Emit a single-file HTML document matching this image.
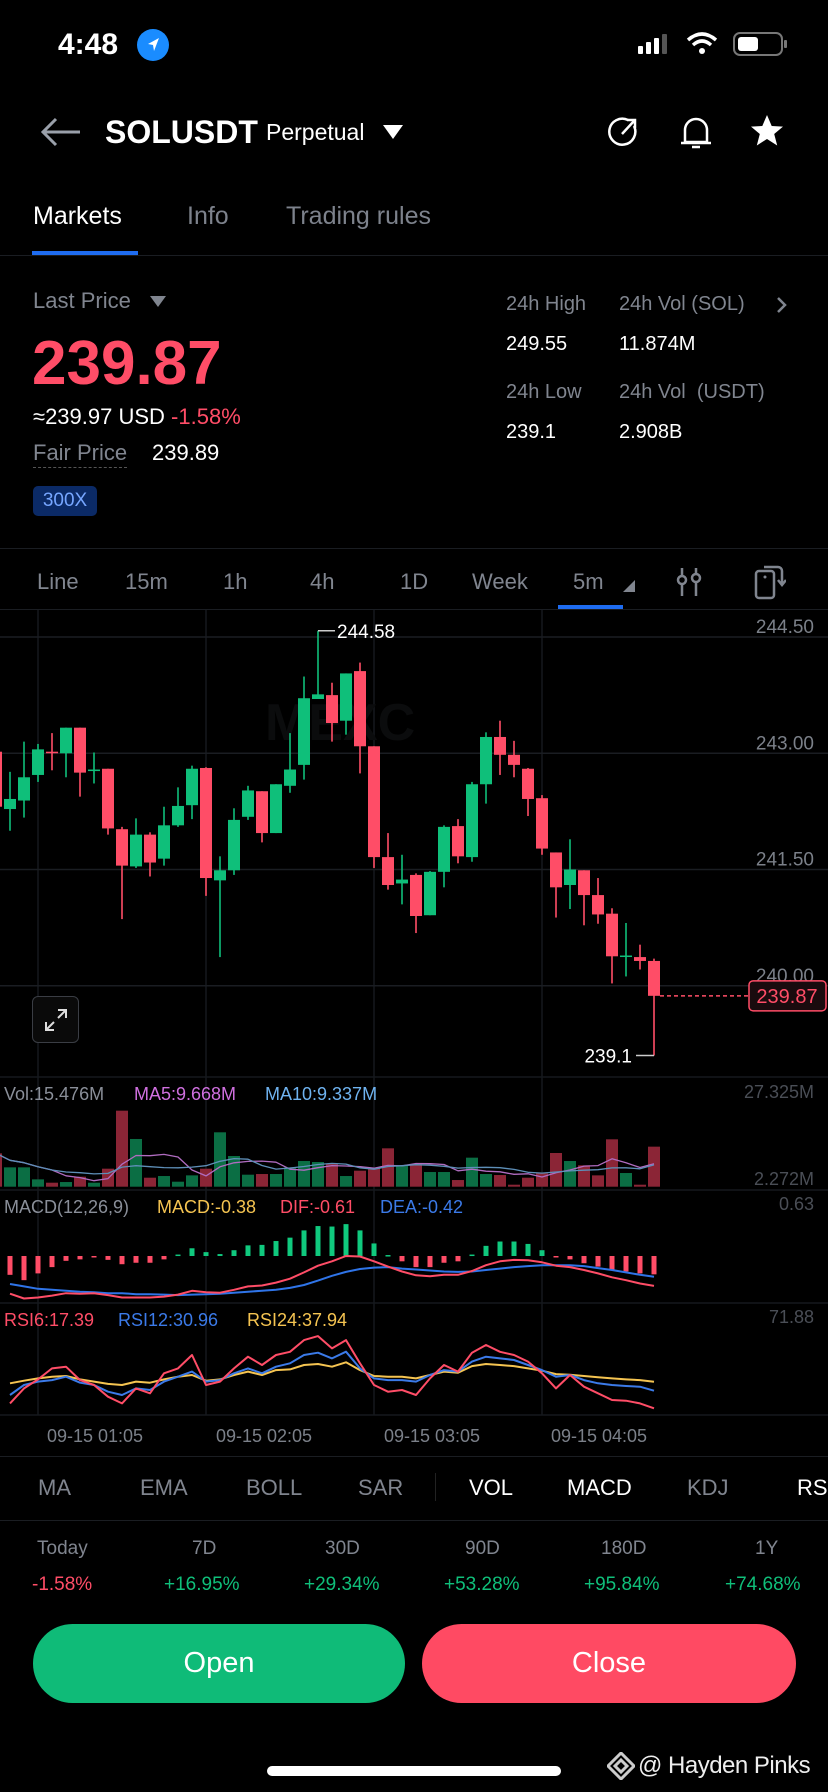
<!DOCTYPE html>
<html><head><meta charset="utf-8">
<style>
*{margin:0;padding:0;box-sizing:border-box}
body{width:828px;height:1792px;background:#000;overflow:hidden;font-family:"Liberation Sans",sans-serif;color:#fff;position:relative}
.a{position:absolute;white-space:nowrap;line-height:1}
.g{color:#80858f}
.hr{position:absolute;left:0;width:828px;height:1px;background:#1a1d22}
</style></head><body>
<!-- status bar -->
<div class="a" style="left:58px;top:30px;font-size:30px;font-weight:bold">4:48</div>
<svg class="a" style="left:137px;top:29px" width="32" height="32"><circle cx="16" cy="16" r="16" fill="#1a8cff"/><path d="M22 9 L11 15 L16 16 L17 22 Z" fill="#fff"/></svg>
<svg class="a" style="left:636px;top:30px" width="152" height="30">
<rect x="2" y="16" width="5" height="8" rx="1" fill="#fff"/><rect x="10" y="12" width="5" height="12" rx="1" fill="#fff"/><rect x="18" y="8" width="5" height="16" rx="1" fill="#fff"/><rect x="26" y="4" width="5" height="20" rx="1" fill="#555"/>
<path d="M52 10 Q66 -2 80 10" stroke="#fff" stroke-width="3.5" fill="none"/><path d="M57 15 Q66 7 75 15" stroke="#fff" stroke-width="3.5" fill="none"/><circle cx="66" cy="21" r="3" fill="#fff"/>
<rect x="98" y="3" width="48" height="22" rx="6" stroke="#777" stroke-width="2" fill="none"/><rect x="102" y="7" width="20" height="14" rx="3" fill="#fff"/><rect x="148" y="10" width="3" height="8" rx="1" fill="#777"/>
</svg>
<!-- header -->
<svg class="a" style="left:40px;top:116px" width="42" height="32"><path d="M40 16 H4 M16 3 L3 16 L16 29" stroke="#9aa0aa" stroke-width="3" fill="none"/></svg>
<div class="a" style="left:105px;top:116px;font-size:32px;font-weight:bold">SOLUSDT</div>
<div class="a" style="left:266px;top:121px;font-size:23px">Perpetual</div>
<svg class="a" style="left:383px;top:125px" width="20" height="16"><path d="M0 0 H20 L10 14 Z" fill="#fff"/></svg>
<svg class="a" style="left:606px;top:114px" width="36" height="36"><path d="M28 12 A13 13 0 1 1 22 6" stroke="#fff" stroke-width="2.5" fill="none"/><path d="M16 20 L28 7 M21 6 H29 V14" stroke="#fff" stroke-width="2.5" fill="none"/></svg>
<svg class="a" style="left:678px;top:113px" width="36" height="38"><path d="M7 29 V17 A11 11 0 0 1 29 17 V29 Z M3 30 H33 M14 34 H22" stroke="#fff" stroke-width="2.5" fill="none"/></svg>
<svg class="a" style="left:749px;top:113px" width="36" height="36"><path d="M18 2 L22.7 13 L34 13.6 L25.2 21 L28.2 32.5 L18 26 L7.8 32.5 L10.8 21 L2 13.6 L13.3 13 Z" fill="#fff"/></svg>
<!-- tabs -->
<div class="a" style="left:33px;top:204px;font-size:25px">Markets</div>
<div class="a g" style="left:187px;top:204px;font-size:25px;color:#7d828c">Info</div>
<div class="a g" style="left:286px;top:204px;font-size:25px;color:#7d828c">Trading rules</div>
<div class="a" style="left:32px;top:251px;width:106px;height:4px;background:#1e6cf0"></div>
<div class="hr" style="top:255px"></div>
<!-- price block -->
<div class="a g" style="left:33px;top:290px;font-size:22px">Last Price</div>
<svg class="a" style="left:150px;top:296px" width="16" height="12"><path d="M0 0 H16 L8 11 Z" fill="#80858f"/></svg>
<div class="a" style="left:32px;top:333px;font-size:62px;font-weight:bold;color:#ff4d67">239.87</div>
<div class="a" style="left:33px;top:406px;font-size:22px">≈239.97 USD <span style="color:#ff4d67">-1.58%</span></div>
<div class="a g" style="left:33px;top:442px;font-size:22px;border-bottom:1px dashed #555;padding-bottom:3px">Fair Price</div>
<div class="a" style="left:152px;top:442px;font-size:22px">239.89</div>
<div class="a" style="left:33px;top:486px;width:64px;height:30px;background:#0b2a66;border-radius:5px;color:#76a6ff;font-size:19px;text-align:center;line-height:30px">300X</div>
<div class="a g" style="left:506px;top:294px;font-size:20px">24h High</div>
<div class="a g" style="left:619px;top:294px;font-size:20px">24h Vol (SOL)</div>
<svg class="a" style="left:776px;top:296px" width="12" height="18"><path d="M2 2 L9 9 L2 16" stroke="#80858f" stroke-width="2.5" fill="none"/></svg>
<div class="a" style="left:506px;top:334px;font-size:20px">249.55</div>
<div class="a" style="left:619px;top:334px;font-size:20px">11.874M</div>
<div class="a g" style="left:506px;top:382px;font-size:20px">24h Low</div>
<div class="a g" style="left:619px;top:382px;font-size:20px">24h Vol&nbsp; (USDT)</div>
<div class="a" style="left:506px;top:422px;font-size:20px">239.1</div>
<div class="a" style="left:619px;top:422px;font-size:20px">2.908B</div>
<div class="hr" style="top:548px"></div>
<!-- timeframe bar -->
<div class="a" style="top:571px;font-size:22px;color:#80858f;left:0;width:828px;height:24px">
<span class="a" style="left:37px">Line</span>
<span class="a" style="left:125px">15m</span>
<span class="a" style="left:223px">1h</span>
<span class="a" style="left:310px">4h</span>
<span class="a" style="left:400px">1D</span>
<span class="a" style="left:472px">Week</span>
<span class="a" style="left:573px">5m</span>
</div>
<svg class="a" style="left:623px;top:580px" width="12" height="12"><path d="M12 0 V12 H0 Z" fill="#80858f"/></svg>
<div class="a" style="left:558px;top:605px;width:65px;height:4px;background:#1e6cf0"></div>
<svg class="a" style="left:676px;top:566px" width="26" height="32"><path d="M6 2 V10 M6 18 V30 M20 2 V8 M20 16 V30" stroke="#80858f" stroke-width="2.5"/><circle cx="6" cy="14" r="4" stroke="#80858f" stroke-width="2.5" fill="none"/><circle cx="20" cy="12" r="4" stroke="#80858f" stroke-width="2.5" fill="none"/></svg>
<svg class="a" style="left:754px;top:564px" width="32" height="36"><rect x="2" y="7" width="18" height="27" rx="3" stroke="#80858f" stroke-width="2.5" fill="none"/><circle cx="11" cy="13" r="1.5" fill="#80858f"/><path d="M10 3 H24 A4 4 0 0 1 28 7 V20 M24 16 L28 21 L32 16" stroke="#80858f" stroke-width="2.5" fill="none"/></svg>
<div class="hr" style="top:609px"></div>

<svg id="chart" class="a" style="left:0;top:0" width="828" height="1792"></svg>

<div class="a" style="left:32px;top:996px;width:47px;height:47px;border:1px solid #3a3d44;border-radius:6px;background:#0a0a0a"></div>
<svg class="a" style="left:44px;top:1008px" width="24" height="24"><path d="M14 2 H22 V10 M22 2 L14 10 M10 22 H2 V14 M2 22 L10 14" stroke="#ddd" stroke-width="2" fill="none"/></svg>

<!-- indicator tabs -->
<div class="hr" style="top:1456px"></div>
<div class="a" style="top:1477px;left:0;width:828px;font-size:22px;color:#80858f">
<span class="a" style="left:38px">MA</span>
<span class="a" style="left:140px">EMA</span>
<span class="a" style="left:246px">BOLL</span>
<span class="a" style="left:358px">SAR</span>
<span class="a" style="left:469px;color:#fff">VOL</span>
<span class="a" style="left:567px;color:#fff">MACD</span>
<span class="a" style="left:687px">KDJ</span>
<span class="a" style="left:797px;color:#fff">RSI</span>
</div>
<div class="a" style="left:435px;top:1473px;width:1px;height:28px;background:#222"></div>
<div class="hr" style="top:1520px"></div>
<!-- period performance -->
<div class="a" style="top:1539px;left:0;width:828px;font-size:19px;color:#80858f">
<span class="a" style="left:37px">Today</span>
<span class="a" style="left:192px">7D</span>
<span class="a" style="left:325px">30D</span>
<span class="a" style="left:465px">90D</span>
<span class="a" style="left:601px">180D</span>
<span class="a" style="left:755px">1Y</span>
</div>
<div class="a" style="top:1575px;left:0;width:828px;font-size:19px;color:#0fbf7a">
<span class="a" style="left:32px;color:#ff4d67">-1.58%</span>
<span class="a" style="left:164px">+16.95%</span>
<span class="a" style="left:304px">+29.34%</span>
<span class="a" style="left:444px">+53.28%</span>
<span class="a" style="left:584px">+95.84%</span>
<span class="a" style="left:725px">+74.68%</span>
</div>
<!-- buttons -->
<div class="a" style="left:33px;top:1624px;width:372px;height:79px;border-radius:40px;background:#0fbb78;font-size:29px;text-align:center;line-height:79px">Open</div>
<div class="a" style="left:422px;top:1624px;width:374px;height:79px;border-radius:40px;background:#ff4a63;font-size:29px;text-align:center;line-height:79px">Close</div>
<div class="a" style="left:267px;top:1766px;width:294px;height:10px;border-radius:5px;background:#fff"></div>
<svg class="a" style="left:607px;top:1752px" width="28" height="28"><path d="M14 1 L27 14 L14 27 L1 14 Z M14 8 L20 14 L14 20 L8 14 Z" fill="none" stroke="#ccc" stroke-width="3"/></svg>
<div class="a" style="left:638px;top:1754px;font-size:24px;color:#eee;letter-spacing:-0.5px">@ Hayden Pinks</div>

<script>
const NS='http://www.w3.org/2000/svg';
const svg=document.getElementById('chart');
// ---- data ----
const opens=[243.02,242.28,242.39,242.72,243.02,243.00,243.33,242.77,242.80,242.02,241.54,241.95,241.64,242.07,242.33,242.81,241.36,241.49,242.18,242.51,241.97,242.58,242.85,243.70,243.75,243.42,244.06,243.09,241.66,241.32,241.43,240.91,241.47,242.06,241.66,242.60,243.21,242.98,242.80,242.42,241.72,241.30,241.49,241.17,240.93,240.38,240.37,240.32];
const closes=[242.31,242.41,242.69,243.05,243.00,243.33,242.75,242.79,242.03,241.55,241.95,241.59,242.07,242.32,242.80,241.39,241.49,242.14,242.52,241.97,242.60,242.79,243.71,243.76,243.39,244.03,243.09,241.66,241.30,241.37,240.90,241.47,242.05,241.67,242.60,243.21,242.98,242.85,242.41,241.77,241.27,241.50,241.17,240.92,240.38,240.39,240.32,239.87];
const highs=[243.05,242.76,243.15,243.12,243.26,243.33,243.33,243.01,242.80,242.05,242.16,241.98,242.31,242.56,242.84,242.82,241.67,242.29,242.58,242.51,242.60,243.26,243.99,244.58,243.91,244.03,244.17,243.09,241.97,241.69,241.45,241.48,242.07,242.15,242.63,243.27,243.42,243.16,242.81,242.46,241.72,241.89,241.49,241.39,241.00,240.81,240.53,240.35];
const lows=[242.28,242.00,242.17,242.63,242.78,242.69,242.44,242.61,241.95,240.86,241.52,241.41,241.55,242.05,242.15,241.16,240.37,241.43,242.14,241.85,241.97,242.49,242.66,243.70,243.15,243.24,242.74,241.52,241.24,241.05,240.68,240.91,241.27,241.58,241.60,242.35,242.72,242.69,242.19,241.69,240.88,240.99,240.78,240.80,240.03,240.12,240.21,239.10];
const volumes=[13.27,8.65,8.65,4.69,3.59,3.81,5.57,3.59,8.21,27.33,18.0,5.24,5.79,3.92,6.01,8.21,20.2,12.39,6.23,6.45,6.45,8.65,10.74,10.41,9.86,5.79,7.55,8.32,14.92,9.09,9.75,7.11,7.11,4.47,11.84,6.45,6.12,2.93,5.24,6.67,13.38,10.74,9.31,6.01,17.89,6.78,2.93,15.47];
const macdHist=[-0.39,-0.50,-0.36,-0.23,-0.10,-0.07,-0.03,-0.08,-0.17,-0.14,-0.14,-0.07,0.03,0.16,0.08,0.04,0.12,0.22,0.23,0.31,0.38,0.53,0.62,0.61,0.66,0.53,0.26,0.02,-0.11,-0.23,-0.23,-0.14,-0.11,0.03,0.21,0.30,0.30,0.25,0.12,-0.01,-0.07,-0.15,-0.22,-0.29,-0.32,-0.36,-0.38];
const difLine=[-0.78,-0.88,-0.86,-0.82,-0.77,-0.78,-0.77,-0.81,-0.86,-0.86,-0.86,-0.84,-0.80,-0.72,-0.75,-0.76,-0.70,-0.63,-0.61,-0.55,-0.47,-0.34,-0.20,-0.11,0.00,-0.01,-0.11,-0.22,-0.32,-0.40,-0.42,-0.39,-0.39,-0.31,-0.19,-0.11,-0.08,-0.09,-0.13,-0.20,-0.23,-0.29,-0.36,-0.44,-0.50,-0.57,-0.62];
const deaLine=[-0.58,-0.63,-0.68,-0.70,-0.72,-0.74,-0.75,-0.77,-0.77,-0.79,-0.79,-0.80,-0.81,-0.80,-0.79,-0.78,-0.76,-0.74,-0.72,-0.70,-0.66,-0.60,-0.51,-0.41,-0.33,-0.27,-0.24,-0.23,-0.26,-0.28,-0.30,-0.32,-0.33,-0.32,-0.29,-0.26,-0.23,-0.21,-0.19,-0.19,-0.19,-0.21,-0.25,-0.29,-0.34,-0.39,-0.43];
const rsi6=[21.2,32.8,39.7,48.2,49.5,39.2,35.4,26.4,21.2,32.8,29.0,44.4,48.2,58.5,35.4,38.0,48.2,57.2,50.8,58.5,61.0,70.0,73.1,63.6,70.0,52.1,35.4,30.2,31.5,27.7,40.5,50.8,45.7,60.3,66.2,61.0,58.5,53.4,44.4,32.8,43.1,34.1,29.0,23.8,23.3,21.2,17.4];
const rsi12=[27.7,35.4,38.0,39.2,41.8,37.2,35.4,30.2,27.7,32.8,31.5,38.0,41.8,45.7,38.0,39.2,44.4,48.2,44.4,49.5,52.1,58.5,60.3,55.9,61.1,48.2,40.5,39.2,39.2,38.0,43.1,46.9,45.7,53.4,57.2,55.9,54.7,50.8,46.9,41.8,43.1,39.2,36.7,35.4,34.6,34.1,31.0];
const rsi24=[36.7,38.7,40.5,41.8,42.3,39.7,38.0,36.2,35.4,38.0,37.2,39.7,41.8,43.1,38.7,39.7,43.1,45.7,43.1,46.9,47.4,50.8,51.6,49.5,52.9,46.9,42.3,41.8,41.8,40.5,43.1,45.7,44.9,50.0,51.6,50.8,50.0,48.2,46.4,43.8,43.3,42.3,41.3,40.5,39.7,39.2,37.9];
const priceTicks=['244.50','243.00','241.50','240.00'];
const timeTicks=['09-15 01:05','09-15 02:05','09-15 03:05','09-15 04:05'];
// ---- scales ----
const GREEN='#0fbf7a',RED='#ff4d67';
const xc=i=>-4+14*i;
const xi=i=>10+14*i;
const yP=p=>637+(244.5-p)*77.5;
const yV=v=>1186.7-(v-2.272)*3.034;
const yM=v=>1256-v*48.3;
const yR=v=>1430.9-1.297*v;
function el(t,a){const e=document.createElementNS(NS,t);for(const k in a)e.setAttribute(k,a[k]);svg.appendChild(e);return e;}
function txt(s,a){const e=el('text',a);e.textContent=s;return e;}
[38,206,374,542].forEach(x=>{const l=el('line',{x1:x,x2:x,y1:610,y2:1415,stroke:'#16191d','stroke-width':1.5});});
priceTicks.forEach(t=>{const y=yP(parseFloat(t));
 const l=el('line',{x1:0,x2:828,y1:y,y2:y,stroke:'#1a1d22','stroke-width':1.5});
 const e=txt(t,{x:814,y:y-4,'text-anchor':'end','font-size':19,fill:'#7b8089','font-family':'Liberation Sans'});});
[1077,1190,1303,1415].forEach(y=>{const l=el('line',{x1:0,x2:828,y1:y,y2:y,stroke:'#16191d','stroke-width':1.5});});
const wm=txt('MEXC',{x:265,y:740,'font-size':52,'font-weight':'bold',fill:'#0b0c0d','font-family':'Liberation Sans'});
opens.forEach((o,i)=>{const c=closes[i],up=c>=o,col=up?GREEN:RED,x=xc(i);
 const w=el('line',{x1:x,x2:x,y1:yP(highs[i]),y2:yP(lows[i]),stroke:col,'stroke-width':1.6});
 
 const top=yP(Math.max(o,c)),h=Math.max(1.5,Math.abs(yP(o)-yP(c)));
 const r=el('rect',{x:x-6,y:top,width:12,height:h,fill:col});
 });
let hiI=0,loI=0;highs.forEach((h,i)=>{if(h>highs[hiI])hiI=i;});lows.forEach((l,i)=>{if(l<lows[loI])loI=i;});
el('line',{x1:xc(hiI),x2:xc(hiI)+17,y1:yP(highs[hiI]),y2:yP(highs[hiI]),stroke:'#ccc','stroke-width':1.5});
const ht=txt(highs[hiI].toFixed(2),{x:xc(hiI)+19,y:yP(highs[hiI])+7,'font-size':19,fill:'#fff','font-family':'Liberation Sans'});
el('line',{x1:xc(loI)-18,x2:xc(loI),y1:yP(lows[loI]),y2:yP(lows[loI]),stroke:'#ccc','stroke-width':1.5});
const lt=txt(String(lows[loI]),{x:xc(loI)-22,y:yP(lows[loI])+7,'text-anchor':'end','font-size':19,fill:'#fff','font-family':'Liberation Sans'});
const last=closes[closes.length-1],ly=yP(last);
el('line',{x1:xc(closes.length-1)+6,x2:749,y1:ly,y2:ly,stroke:RED,'stroke-width':1.5,'stroke-dasharray':'4 3'});
const lb=el('rect',{x:749,y:ly-15,width:77,height:30,rx:4,fill:'#1a0b0e',stroke:RED,'stroke-width':1.5});
txt(last.toFixed(2),{x:787,y:ly+7,'text-anchor':'middle','font-size':20,fill:RED,'font-family':'Liberation Sans'});
volumes.forEach((v,i)=>{const up=closes[i]>=opens[i];const y=yV(v);
 const b=el('rect',{x:xc(i)-6,y:y,width:12,height:1186.7-y,fill:up?'#0b6e44':'#8b2536'});
 });
function ma(arr,n){return arr.map((_,i)=>{const s=arr.slice(Math.max(0,i-n+1),i+1);return s.reduce((a,b)=>a+b,0)/s.length;});}
function line(vals,xf,yf,col,w,name){const d=vals.map((v,i)=>(i?'L':'M')+xf(i).toFixed(1)+' '+yf(v).toFixed(1)).join(' ');
 const p=el('path',{d:d,stroke:col,'stroke-width':w,fill:'none','stroke-linejoin':'round'});}
line(ma(volumes,5),xc,yV,'#b06cc0',1.3,'vol-ma5-line');
line(ma(volumes,10),xc,yV,'#5e8fb8',1.3,'vol-ma10-line');
macdHist.forEach((v,i)=>{const y0=yM(0),y=yM(v);
 const b=el('rect',{x:xi(i)-2.5,y:Math.min(y0,y),width:5,height:Math.max(1.5,Math.abs(y-y0)),fill:v>=0?'#10c97e':RED});
 });
line(deaLine,xi,yM,'#2f74e8',2,'dea-line');
line(difLine,xi,yM,'#ff4d67',2,'dif-line');
line(rsi24,xi,yR,'#f5c451',2,'rsi24-line');
line(rsi12,xi,yR,'#3b7ae8',2,'rsi12-line');
line(rsi6,xi,yR,'#ff4d67',2,'rsi6-line');
function lab(s,x,y,col,name,anchor){const e=txt(s,{x:x,y:y,'font-size':18,fill:col,'font-family':'Liberation Sans','text-anchor':anchor||'start'});}
lab('Vol:15.476M',4,1100,'#8a8f99','vol-label');lab('MA5:9.668M',134,1100,'#d070e0','vol-ma5-label');lab('MA10:9.337M',265,1100,'#6fb3f0','vol-ma10-label');
lab('27.325M',814,1098,'#4a4e56','vol-max-tick','end');lab('2.272M',814,1185,'#4a4e56','vol-min-tick','end');
lab('MACD(12,26,9)',4,1213,'#8a8f99','macd-label');lab('MACD:-0.38',157,1213,'#f5c451','macd-value');lab('DIF:-0.61',280,1213,'#ff4d67','dif-value');lab('DEA:-0.42',380,1213,'#3b7ae8','dea-value');
lab('0.63',814,1210,'#4a4e56','macd-max-tick','end');
lab('RSI6:17.39',4,1326,'#ff4d67','rsi6-label');lab('RSI12:30.96',118,1326,'#3b7ae8','rsi12-label');lab('RSI24:37.94',247,1326,'#f5c451','rsi24-label');
lab('71.88',814,1323,'#4a4e56','rsi-max-tick','end');
timeTicks.forEach((t,k)=>{const e=txt(t,{x:[95,264,432,599][k],y:1442,'text-anchor':'middle','font-size':18,fill:'#7b8089','font-family':'Liberation Sans'});});
</script>
</body></html>
